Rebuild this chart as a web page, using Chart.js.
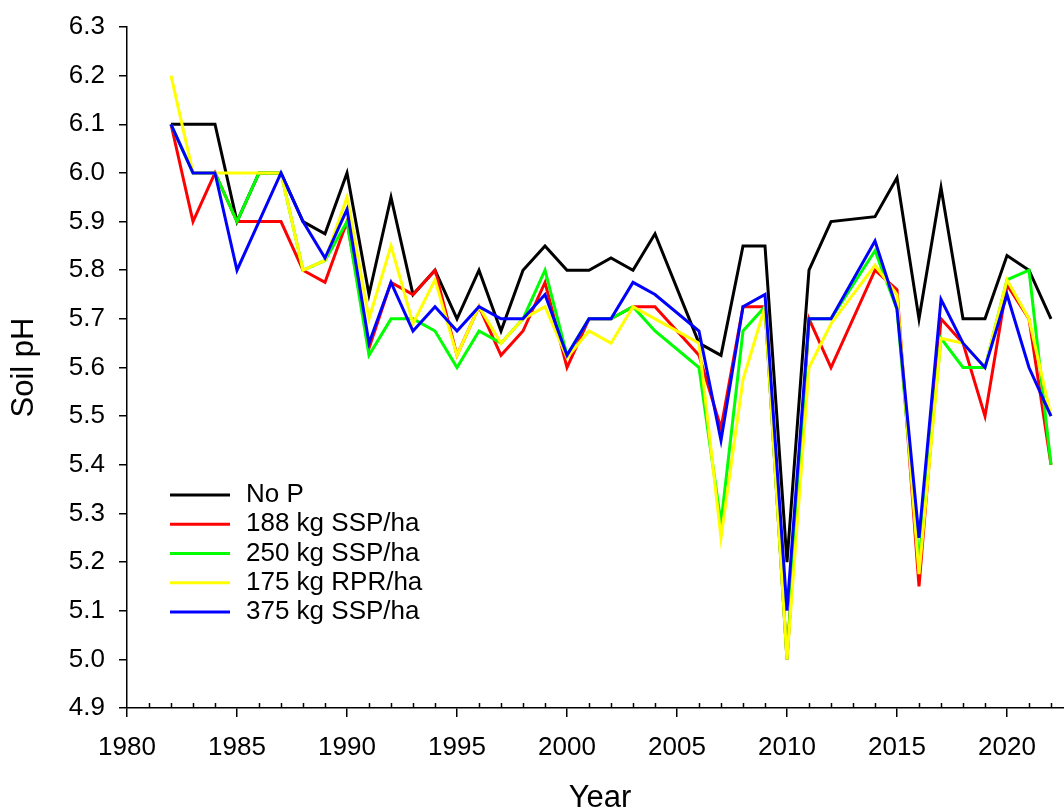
<!DOCTYPE html>
<html>
<head>
<meta charset="utf-8">
<script src="https://cdn.jsdelivr.net/npm/chart.js@4"></script>
<style>
  html, body { margin: 0; padding: 0; background: #fff; overflow: hidden; }
  #wrap { width: 1064px; height: 811px; overflow: hidden; }
</style>
</head>
<body>
<div id="wrap"><canvas id="chart" width="1090" height="830"></canvas></div>
<script>
// Jahre (2005 und 2013 fehlen -> null, Linie wird durchgezogen)
const years = [1982, 1983, 1984, 1985, 1986, 1987, 1988, 1989, 1990, 1991, 1992, 1993, 1994, 1995,
  1996, 1997, 1998, 1999, 2000, 2001, 2002, 2003, 2004, 2005, 2006, 2007, 2008, 2009, 2010, 2011,
  2012, 2013, 2014, 2015, 2016, 2017, 2018, 2019, 2020, 2021, 2022];

const noP = [6.1, 6.1, 6.1, 5.9, 6.0, 6.0, 5.9, 5.875, 6.0, 5.75, 5.95, 5.75, 5.8, 5.7,
  5.8, 5.675, 5.8, 5.85, 5.8, 5.8, 5.825, 5.8, 5.875, null, 5.65, 5.625, 5.85, 5.85, 5.2, 5.8,
  5.9, null, 5.91, 5.99, 5.7, 5.97, 5.7, 5.7, 5.83, 5.8, 5.7];

const ssp188 = [6.1, 5.9, 6.0, 5.9, 5.9, 5.9, 5.8, 5.775, 5.9, 5.64, 5.775, 5.75, 5.8, 5.625,
  5.725, 5.625, 5.675, 5.775, 5.6, 5.7, 5.7, 5.725, 5.725, null, 5.625, 5.475, 5.725, 5.725, 5.0, 5.7,
  5.6, null, 5.8, 5.76, 5.15, 5.7, 5.65, 5.5, 5.77, 5.7, 5.4];

const ssp250 = [6.1, 6.0, 6.0, 5.9, 6.0, 6.0, 5.8, 5.82, 5.9, 5.625, 5.7, 5.7, 5.675, 5.6,
  5.675, 5.65, 5.7, 5.8, 5.625, 5.7, 5.7, 5.725, 5.675, null, 5.6, 5.28, 5.675, 5.725, 5.0, 5.7,
  5.7, null, 5.84, 5.72, 5.2, 5.66, 5.6, 5.6, 5.78, 5.8, 5.4];

const rpr175 = [6.2, 6.0, 6.0, 6.0, 6.0, 6.0, 5.8, 5.82, 5.95, 5.7, 5.85, 5.69, 5.78, 5.625,
  5.725, 5.65, 5.7, 5.725, 5.62, 5.675, 5.65, 5.725, 5.7, null, 5.65, 5.25, 5.575, 5.725, 5.0, 5.6,
  5.69, null, 5.81, 5.75, 5.175, 5.66, 5.65, 5.6, 5.78, 5.7, 5.5];

const ssp375 = [6.1, 6.0, 6.0, 5.8, 5.9, 6.0, 5.9, 5.825, 5.925, 5.65, 5.775, 5.675, 5.725, 5.675,
  5.725, 5.7, 5.7, 5.75, 5.625, 5.7, 5.7, 5.775, 5.75, null, 5.675, 5.45, 5.725, 5.75, 5.1, 5.7,
  5.7, null, 5.86, 5.72, 5.25, 5.74, 5.65, 5.6, 5.75, 5.6, 5.5];

const labels = ['No P', '188 kg SSP/ha', '250 kg SSP/ha', '175 kg RPR/ha', '375 kg SSP/ha'];
const colors = ['#000000', '#ff0000', '#00ff00', '#ffff00', '#0000ff'];
const series = [noP, ssp188, ssp250, rpr175, ssp375];

const FONT = "'Liberation Sans', Arial, sans-serif";

const datasets = series.map((vals, i) => ({
  label: labels[i],
  data: vals.map((v, k) => ({ x: years[k], y: v })),
  borderColor: colors[i],
  backgroundColor: colors[i],
  borderWidth: 3,
  pointRadius: 0,
  tension: 0,
  spanGaps: true,
  order: series.length - i   // letzte Reihe oben
}));

// kleine Striche jedes Jahr nach innen
const minorTicks = {
  id: 'minorTicks',
  afterDraw(chart) {
    const x = chart.scales.x, ctx = chart.ctx;
    const yb = chart.chartArea.bottom;
    ctx.save();
    ctx.strokeStyle = '#000';
    ctx.lineWidth = 1.5;
    for (let yr = Math.ceil(x.min); yr <= x.max; yr++) {
      if (yr % 5 === 0) continue;
      const px = Math.round(x.getPixelForValue(yr)) + 0.5;
      ctx.beginPath();
      ctx.moveTo(px, yb);
      ctx.lineTo(px, yb - 5);
      ctx.stroke();
    }
    ctx.restore();
  }
};

// Legende innen links unten
const innerLegend = {
  id: 'innerLegend',
  afterDraw(chart) {
    const ctx = chart.ctx;
    ctx.save();
    ctx.font = '26px ' + FONT;
    ctx.textBaseline = 'middle';
    ctx.textAlign = 'left';
    labels.forEach((lab, i) => {
      const y = 495 + i * 29.25;
      ctx.strokeStyle = colors[i];
      ctx.lineWidth = 3;
      ctx.beginPath();
      ctx.moveTo(170, y);
      ctx.lineTo(230, y);
      ctx.stroke();
      ctx.fillStyle = '#000';
      ctx.fillText(lab, 246, y);
    });
    ctx.restore();
  }
};

new Chart(document.getElementById('chart'), {
  type: 'line',
  data: { datasets },
  options: {
    responsive: false,
    animation: false,
    layout: { padding: { top: 0, right: 17, bottom: 0, left: 0 } },
    plugins: { legend: { display: false }, tooltip: { enabled: false } },
    scales: {
      x: {
        type: 'linear',
        min: 1980,
        max: 2023,
        afterFit: s => { s.height = 122; },
        ticks: {
          stepSize: 5,
          includeBounds: false,
          padding: 15,
          color: '#000',
          font: { family: FONT, size: 26 },
          callback: v => String(v)
        },
        grid: { drawOnChartArea: false, drawTicks: true, tickLength: 9, color: '#000', lineWidth: 1.5 },
        border: { display: true, color: '#000', width: 1.5 },
        title: { display: true, text: 'Year', color: '#000', font: { family: FONT, size: 31 }, padding: { top: 0, bottom: 13 } }
      },
      y: {
        min: 4.9,
        max: 6.3,
        afterFit: s => { s.width = 127; },
        ticks: {
          stepSize: 0.1,
          padding: 14,
          color: '#000',
          font: { family: FONT, size: 26, lineHeight: 1.0 },
          callback: v => Number(v).toFixed(1)
        },
        grid: { drawOnChartArea: false, drawTicks: true, tickLength: 8, color: '#000', lineWidth: 1.5 },
        border: { display: true, color: '#000', width: 1.5 },
        title: { display: true, text: 'Soil pH', color: '#000', font: { family: FONT, size: 31 }, padding: { top: 6, bottom: 0 } }
      }
    }
  },
  plugins: [minorTicks, innerLegend]
});
</script>
</body>
</html>
